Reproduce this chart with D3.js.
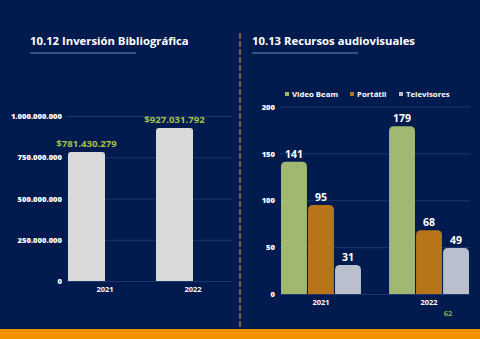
<!DOCTYPE html>
<html>
<head>
<meta charset="utf-8">
<script src="https://cdn.jsdelivr.net/npm/d3@7"></script>
<style>
  html, body { margin: 0; padding: 0; background: #021b4f; }
  svg { display: block; font-family: "Open Sans", sans-serif; font-weight: 700; }
  .grid line { stroke: #1c3768; stroke-width: 1; }
  .grid .domain { display: none; }
  .grid text { fill: #ffffff; font-family: "Open Sans", sans-serif; font-size: 7.6px; font-weight: 800; }
</style>
</head>
<body>
<div id="graph"></div>
<script>
// Inversión bibliográfica
var invYears = ["2021", "2022"];
var invValues = [781430279, 927031792];
var invTicks = [0, 250000000, 500000000, 750000000, 1000000000];

// Recursos audiovisuales
var avYears = ["2021", "2022"];
var avSeries = ["Video Beam", "Portátil", "Televisores"];
var avVideoBeam = [141, 179];
var avPortatil = [95, 68];
var avTelevisores = [31, 49];
var avTicks = [0, 50, 100, 150, 200];
var avColors = ["#a0b872", "#b87418", "#b9bfcc"];

var svgWidth = 480, svgHeight = 339;

var loc = d3.formatLocale({decimal: ",", thousands: ".", grouping: [3], currency: ["$", ""]});
var fmtNum = loc.format(",d");
var fmtMoney = loc.format("$,d");

var svg = d3.select("#graph").append("svg")
  .attr("width", svgWidth)
  .attr("height", svgHeight);

svg.append("rect").attr("width", svgWidth).attr("height", svgHeight).attr("fill", "#021b4f");

// rounded-top bar path
function topRounded(x, y, w, h, r) {
  r = Math.min(r, h, w / 2);
  return "M" + x + "," + (y + h) +
    "V" + (y + r) +
    "Q" + x + "," + y + " " + (x + r) + "," + y +
    "H" + (x + w - r) +
    "Q" + (x + w) + "," + y + " " + (x + w) + "," + (y + r) +
    "V" + (y + h) + "Z";
}

function title(x, txt) {
  svg.append("text")
    .attr("x", x).attr("y", 45)
    .attr("fill", "#ffffff")
    .style("font-size", "11.3px")
    .text(txt);
  svg.append("line")
    .attr("x1", x).attr("x2", x + 106)
    .attr("y1", 53).attr("y2", 53)
    .attr("stroke", "#4a6592").attr("stroke-width", 1.5);
}

// ---------- left chart ----------
title(30, "10.12 Inversión Bibliográfica");

var yL = d3.scaleLinear().domain([0, 1000000000]).range([281, 116]);
var xL = d3.scaleBand().domain(invYears).range([66, 242]);

svg.append("g")
  .attr("class", "grid")
  .attr("transform", "translate(66,0)")
  .call(d3.axisLeft(yL).tickValues(invTicks).tickFormat(fmtNum).tickSize(-166).tickPadding(4))
  .selectAll("text").attr("dy", "0.35em");

var invData = invYears.map(function(y, i) { return {year: y, value: invValues[i]}; });

svg.selectAll(".invbar").data(invData).enter().append("path")
  .attr("class", "invbar")
  .attr("fill", "#d9d9d9")
  .attr("d", function(d) {
    return topRounded(xL(d.year) + 2, yL(d.value), 37, yL(0) - yL(d.value), 3);
  });

svg.selectAll(".invlbl").data(invData).enter().append("text")
  .attr("x", function(d) { return xL(d.year) + 20.5; })
  .attr("y", function(d) { return yL(d.value) - 5.5; })
  .attr("text-anchor", "middle")
  .attr("fill", "#a5c24a")
  .style("font-size", "9.6px")
  .text(function(d) { return fmtMoney(d.value); });

svg.selectAll(".invyear").data(invYears).enter().append("text")
  .attr("x", function(d) { return xL(d) + 39; })
  .attr("y", 292)
  .attr("text-anchor", "middle")
  .attr("fill", "#ffffff")
  .style("font-size", "7.5px")
  .text(function(d) { return d; });

// divider
svg.append("line")
  .attr("x1", 240).attr("x2", 240)
  .attr("y1", 33).attr("y2", 329)
  .attr("stroke", "#a57a45").attr("stroke-width", 1.5)
  .attr("stroke-dasharray", "6,2");

// ---------- right chart ----------
title(252, "10.13 Recursos audiovisuales");

var yR = d3.scaleLinear().domain([0, 200]).range([294, 106.5]);
var x0 = d3.scaleBand().domain(avYears).range([281, 469]).paddingInner(0.26);
var x1 = d3.scaleBand().domain(avSeries).range([0, x0.bandwidth()]).paddingInner(0.04);
var color = d3.scaleOrdinal().domain(avSeries).range(avColors);

svg.append("g")
  .attr("class", "grid")
  .attr("transform", "translate(280,0)")
  .call(d3.axisLeft(yR).tickValues(avTicks).tickSize(-190).tickPadding(5))
  .selectAll("text").attr("dy", "0.35em");

var seriesVals = [avVideoBeam, avPortatil, avTelevisores];
var avData = [];
avYears.forEach(function(y, i) {
  avSeries.forEach(function(s, j) {
    avData.push({year: y, series: s, value: seriesVals[j][i]});
  });
});

svg.selectAll(".avbar").data(avData).enter().append("path")
  .attr("class", "avbar")
  .attr("fill", function(d) { return color(d.series); })
  .attr("d", function(d) {
    return topRounded(x0(d.year) + x1(d.series), yR(d.value), x1.bandwidth(), yR(0) - yR(d.value), 5);
  });

svg.selectAll(".avlbl").data(avData).enter().append("text")
  .attr("x", function(d) { return x0(d.year) + x1(d.series) + x1.bandwidth() / 2; })
  .attr("y", function(d) { return yR(d.value) - 4; })
  .attr("text-anchor", "middle")
  .attr("fill", "#ffffff")
  .style("font-size", "10.5px")
  .text(function(d) { return d.value; });

svg.selectAll(".avyear").data(avYears).enter().append("text")
  .attr("x", function(d) { return x0(d) + x0.bandwidth() / 2; })
  .attr("y", 305)
  .attr("text-anchor", "middle")
  .attr("fill", "#ffffff")
  .style("font-size", "7.5px")
  .text(function(d) { return d; });

// stray page number under the chart
svg.append("text")
  .attr("x", 448).attr("y", 316)
  .attr("text-anchor", "middle")
  .attr("fill", "#8aa84c")
  .style("font-size", "7.5px")
  .text("62");

// legend
var legendX = [287, 352, 401];
var legend = svg.selectAll(".leg").data(avSeries).enter().append("g")
  .attr("transform", function(d, i) { return "translate(" + legendX[i] + ",94)"; });
legend.append("rect")
  .attr("x", -2).attr("y", -2).attr("width", 4).attr("height", 4)
  .attr("fill", function(d) { return color(d); });
legend.append("text")
  .attr("x", 5).attr("dy", "0.35em")
  .attr("fill", "#ffffff")
  .style("font-size", "7.8px")
  .text(function(d) { return d; });

// footer band
svg.append("rect")
  .attr("x", 0).attr("y", 329)
  .attr("width", svgWidth).attr("height", 10)
  .attr("fill", "#f39200");
</script>
</body>
</html>
